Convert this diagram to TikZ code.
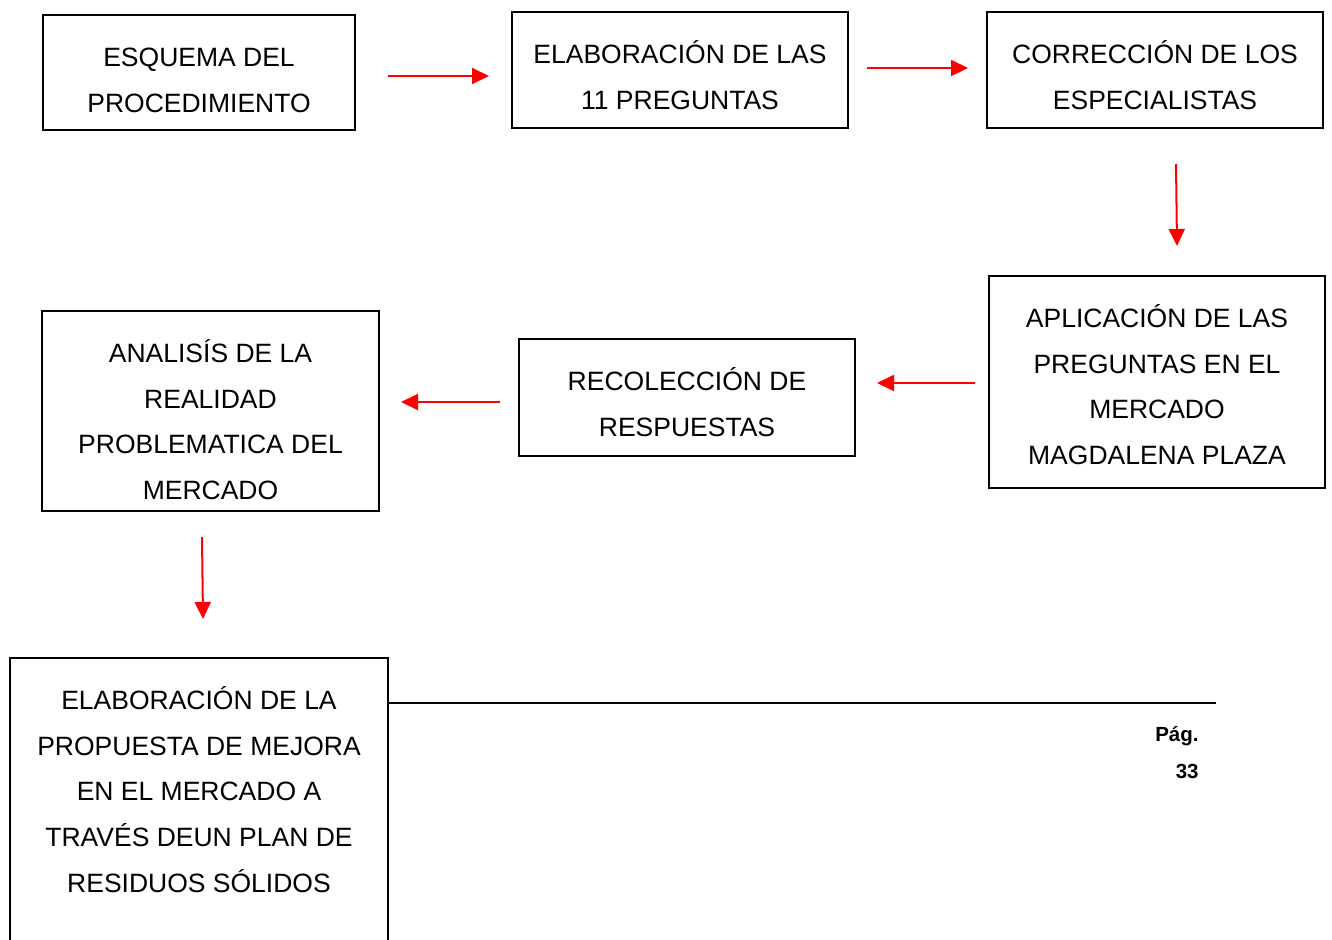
\documentclass[tikz,border=0pt]{standalone}
\usepackage{fontspec}
\setmainfont{Liberation Sans}
\usepackage{tikz}
\usetikzlibrary{arrows.meta,positioning}

\newcommand{\caja}[3]{\parbox[t][#2][t]{#1}{\centering\rule{0pt}{25.75pt}#3}}

\begin{document}
\begin{tikzpicture}[x=0.5pt,y=-0.5pt,
  paso/.style={draw,line width=1pt,inner sep=0pt,anchor=north west,
               font=\fontsize{13.25}{22.85}\selectfont},
  flecha/.style={draw=red,line width=1pt,-{Triangle[length=8.5pt,width=8pt]}},
  pie/.style={font=\fontsize{10.25}{12}\selectfont\bfseries,anchor=base east,inner sep=0pt}]

  \useasboundingbox (0,0) rectangle (1332,939);
  \clip (0,0) rectangle (1332,939);

  \node[paso]	(esquema)   at (42,14)  	{\caja{156pt}{57.5pt}{ESQUEMA DEL\\PROCEDIMIENTO}};
  \node[paso]	(elabora)   at (511,11) 	{\caja{168pt}{58pt}{ELABORACIÓN DE LAS\\11 PREGUNTAS}};
  \node[paso]	(correccion) at (986,11)	{\caja{168pt}{58pt}{CORRECCIÓN DE LOS\\ESPECIALISTAS}};
  \node[paso]	(aplicacion) at (988,275)	{\caja{168pt}{106pt}{APLICACIÓN DE LAS\\PREGUNTAS EN EL\\MERCADO\\MAGDALENA PLAZA}};
  \node[paso]	(recoleccion) at (518,338)	{\caja{168pt}{58.5pt}{RECOLECCIÓN DE\\RESPUESTAS}};
  \node[paso]	(analisis)  at (41,310) 	{\caja{168.5pt}{100pt}{ANALISÍS DE LA\\REALIDAD\\PROBLEMATICA DEL\\MERCADO}};
  \node[paso]	(propuesta) at (9,657)  	{\caja{189pt}{200pt}{ELABORACIÓN DE LA\\PROPUESTA DE MEJORA\\EN EL MERCADO A\\TRAVÉS DEUN PLAN DE\\RESIDUOS SÓLIDOS}};

  % extremos de las flechas
  \coordinate (f1a) at (388,76);   \coordinate (f1b) at (489,76);
  \coordinate (f2a) at (867,68);   \coordinate (f2b) at (968,68);
  \coordinate (f3a) at (1176,164); \coordinate (f3b) at (1177,246);
  \coordinate (f4a) at (975,383);  \coordinate (f4b) at (877,383);
  \coordinate (f5a) at (500,402);  \coordinate (f5b) at (401,402);
  \coordinate (f6a) at (202,537);  \coordinate (f6b) at (203,619);

  \draw[flecha] (f1a) -- (f1b);
  \draw[flecha] (f2a) -- (f2b);
  \draw[flecha] (f3a) -- (f3b);
  \draw[flecha] (f4a) -- (f4b);
  \draw[flecha] (f5a) -- (f5b);
  \draw[flecha] (f6a) -- (f6b);

  \coordinate (regla) at (1216,703);
  \draw[line width=1pt] (propuesta.east |- regla) -- (regla);

  \node[pie]	(pag)	at (1199,741)	{Pág.};
  \node[pie]	(num)	at (1199,778)	{33};
\end{tikzpicture}
\end{document}
